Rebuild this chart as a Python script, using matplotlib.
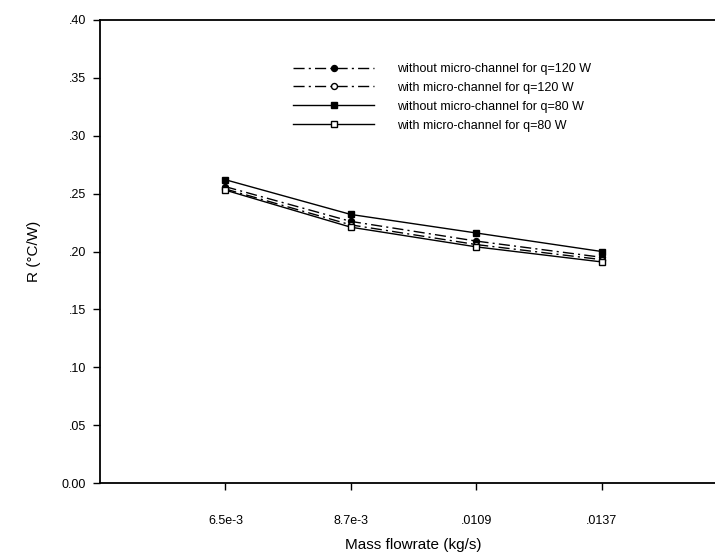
import matplotlib
matplotlib.use("Agg")
import matplotlib.pyplot as plt
from matplotlib.ticker import FuncFormatter

plt.rcParams['font.family'] = ['Liberation Sans', 'DejaVu Sans']

x_labels = ["6.5e-3", "8.7e-3", ".0109", ".0137"]
x_pos = [1, 2, 3, 4]

without_120 = [0.256, 0.226, 0.209, 0.195]
with_120 = [0.254, 0.223, 0.206, 0.193]
without_80 = [0.262, 0.232, 0.216, 0.200]
with_80 = [0.253, 0.221, 0.204, 0.191]

labels = [
    "without micro-channel for q=120 W",
    "with micro-channel for q=120 W",
    "without micro-channel for q=80 W",
    "with micro-channel for q=80 W",
]

fig = plt.figure(figsize=(7.15, 5.59), dpi=100)
ax = fig.add_axes([100/715, (559-483)/559, 627/715, (483-20)/559])

dashdot = (0, (8, 3, 1.5, 3))
ms = 4.3
ax.plot(x_pos, without_120, color='black', lw=1.0, linestyle=dashdot,
        marker='o', markersize=ms, markerfacecolor='black', label=labels[0])
ax.plot(x_pos, with_120, color='black', lw=1.0, linestyle=dashdot,
        marker='o', markersize=ms, markerfacecolor='white', label=labels[1])
ax.plot(x_pos, without_80, color='black', lw=1.0, linestyle='-',
        marker='s', markersize=ms, markerfacecolor='black', label=labels[2])
ax.plot(x_pos, with_80, color='black', lw=1.0, linestyle='-',
        marker='s', markersize=ms, markerfacecolor='white', label=labels[3])

ax.set_xlim(0, 5)
ax.set_ylim(0, 0.40)
ax.set_xticks(x_pos)
ax.set_xticklabels(x_labels, fontsize=9)
ax.set_yticks([0, 0.05, 0.10, 0.15, 0.20, 0.25, 0.30, 0.35, 0.40])

def yfmt(v, p):
    if abs(v) < 1e-9:
        return "0.00"
    return ("%.2f" % v)[1:]

ax.yaxis.set_major_formatter(FuncFormatter(yfmt))
ax.tick_params(axis='y', labelsize=9, direction='out', length=5, width=1, pad=5)
ax.tick_params(axis='x', labelsize=9, direction='out', length=5, width=1, pad=18)
for s in ax.spines.values():
    s.set_linewidth(1.3)

ax.set_xlabel("Mass flowrate (kg/s)", fontsize=11, labelpad=8)
ax.set_ylabel("R (\u00b0C/W)", fontsize=11, labelpad=15)

leg = ax.legend(loc='upper left', bbox_to_anchor=(0.3, 0.918), frameon=False,
                fontsize=9, handlelength=6.5, handletextpad=1.8,
                labelspacing=0.55, borderaxespad=0)

fig.savefig("out.png", dpi=100)
